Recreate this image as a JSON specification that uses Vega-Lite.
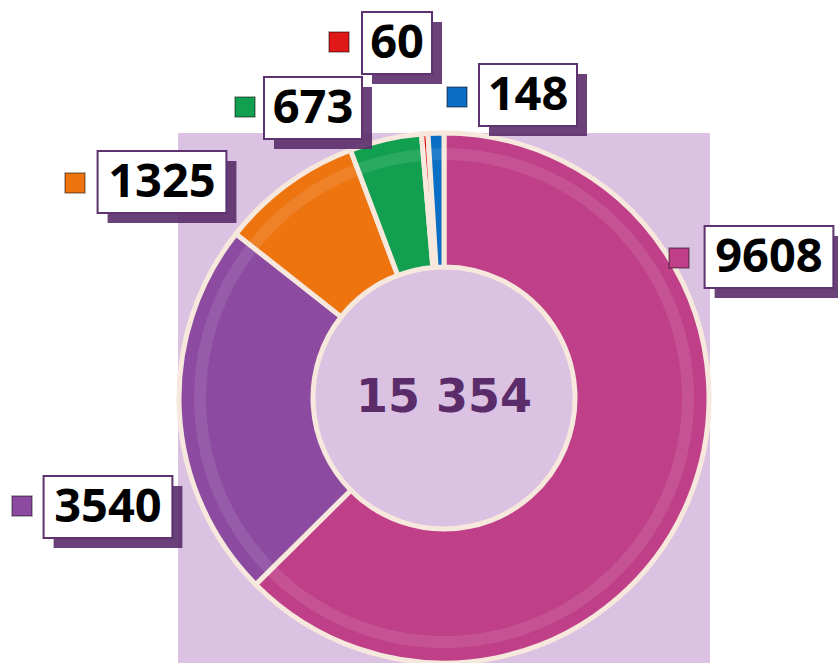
{
  "$schema": "https://vega.github.io/schema/vega-lite/v6.json",
  "width": 532,
  "height": 530,
  "autosize": {"type": "none"},
  "padding": {"left": 178, "top": 133, "right": 128, "bottom": 0},
  "background": "white",
  "title": {
    "text": "по направлениям",
    "anchor": "start",
    "dx": 429,
    "offset": 130,
    "baseline": "alphabetic",
    "font": "Open Sans",
    "fontSize": 40,
    "fontWeight": "bold",
    "color": "black"
  },
  "config": {
    "view": {"fill": "#dbc1e2", "stroke": null},
    "axis": {"disable": true}
  },
  "data": {
    "values": [
      {"id": "a", "value": 9608, "lx": 325, "ly": 141, "mx": 235, "my": 140},
      {"id": "b", "value": 3540, "lx": -336, "ly": -109, "mx": -422, "my": -108},
      {"id": "c", "value": 1325, "lx": -282, "ly": 216, "mx": -369, "my": 215},
      {"id": "d", "value": 673, "lx": -131, "ly": 290, "mx": -199, "my": 291},
      {"id": "e", "value": 60, "lx": -47, "ly": 355, "mx": -105, "my": 356},
      {"id": "f", "value": 148, "lx": 84, "ly": 303, "mx": 13, "my": 301}
    ]
  },
  "transform": [
    {"calculate": "toString(datum.value)", "as": "label"},
    {"calculate": "toString(length(datum.label))", "as": "digits"}
  ],
  "resolve": {"scale": {"shape": "independent"}},
  "layer": [
    {
      "mark": {"type": "arc", "outerRadius": 265, "innerRadius": 131, "stroke": "#f6e8dc", "strokeWidth": 5},
      "encoding": {
        "theta": {"field": "value", "type": "quantitative", "stack": true},
        "order": {"field": "id", "type": "nominal"},
        "color": {
          "field": "id", "type": "nominal", "legend": null,
          "scale": {"domain": ["a", "b", "c", "d", "e", "f"], "range": ["#bf4088", "#8c4aa0", "#ee7410", "#12a050", "#e01818", "#0a6fc4"]}
        }
      }
    },
    {
      "mark": {"type": "arc", "outerRadius": 250, "innerRadius": 238, "fill": "white", "opacity": 0.1},
      "encoding": {
        "theta": {"field": "value", "type": "quantitative", "stack": true},
        "order": {"field": "id", "type": "nominal"}
      }
    },
    {
      "mark": {"type": "point", "filled": true, "size": 19600, "fill": "#5a2d6a", "opacity": 0.9, "strokeWidth": 0},
      "encoding": {
        "x": {"field": "lx", "type": "quantitative", "scale": {"domain": [-266, 266], "nice": false, "zero": false}},
        "y": {"field": "ly", "type": "quantitative", "scale": {"domain": [-265, 265], "nice": false, "zero": false}},
        "shape": {
          "field": "digits", "type": "nominal", "legend": null,
          "scale": {"domain": ["2", "3", "4"], "range": [
            "M-0.357,-0.3H0.643V0.586H-0.357Z",
            "M-0.557,-0.3H0.843V0.586H-0.557Z",
            "M-0.777,-0.3H1.063V0.586H-0.777Z"
          ]}
        }
      }
    },
    {
      "mark": {"type": "point", "filled": true, "size": 19600, "fill": "white", "stroke": "#5e3370", "strokeWidth": 2, "opacity": 1},
      "encoding": {
        "x": {"field": "lx", "type": "quantitative"},
        "y": {"field": "ly", "type": "quantitative"},
        "shape": {
          "field": "digits", "type": "nominal", "legend": null,
          "scale": {"domain": ["2", "3", "4"], "range": [
            "M-0.5,-0.443H0.5V0.443H-0.5Z",
            "M-0.7,-0.443H0.7V0.443H-0.7Z",
            "M-0.92,-0.443H0.92V0.443H-0.92Z"
          ]}
        }
      }
    },
    {
      "mark": {"type": "text", "font": "Open Sans", "fontSize": 47, "fontWeight": "bold", "color": "black", "align": "center", "baseline": "middle", "dy": 1},
      "encoding": {
        "x": {"field": "lx", "type": "quantitative"},
        "y": {"field": "ly", "type": "quantitative"},
        "text": {"field": "label", "type": "nominal"}
      }
    },
    {
      "mark": {"type": "point", "shape": "square", "filled": true, "size": 400, "stroke": "#00000066", "strokeWidth": 1.5, "opacity": 1},
      "encoding": {
        "x": {"field": "mx", "type": "quantitative"},
        "y": {"field": "my", "type": "quantitative"},
        "color": {"field": "id", "type": "nominal", "legend": null}
      }
    },
    {
      "transform": [{"aggregate": [{"op": "sum", "field": "value", "as": "total"}]},
        {"calculate": "replace(format(datum.total, ',d'), ',', ' ')", "as": "totalText"}],
      "mark": {"type": "text", "font": "DejaVu Sans", "fontSize": 46, "fontWeight": "bold", "color": "#5a2d6a", "align": "center", "baseline": "middle"},
      "encoding": {
        "x": {"datum": 0, "type": "quantitative"},
        "y": {"datum": 0, "type": "quantitative"},
        "text": {"field": "totalText", "type": "nominal"}
      }
    }
  ]
}
